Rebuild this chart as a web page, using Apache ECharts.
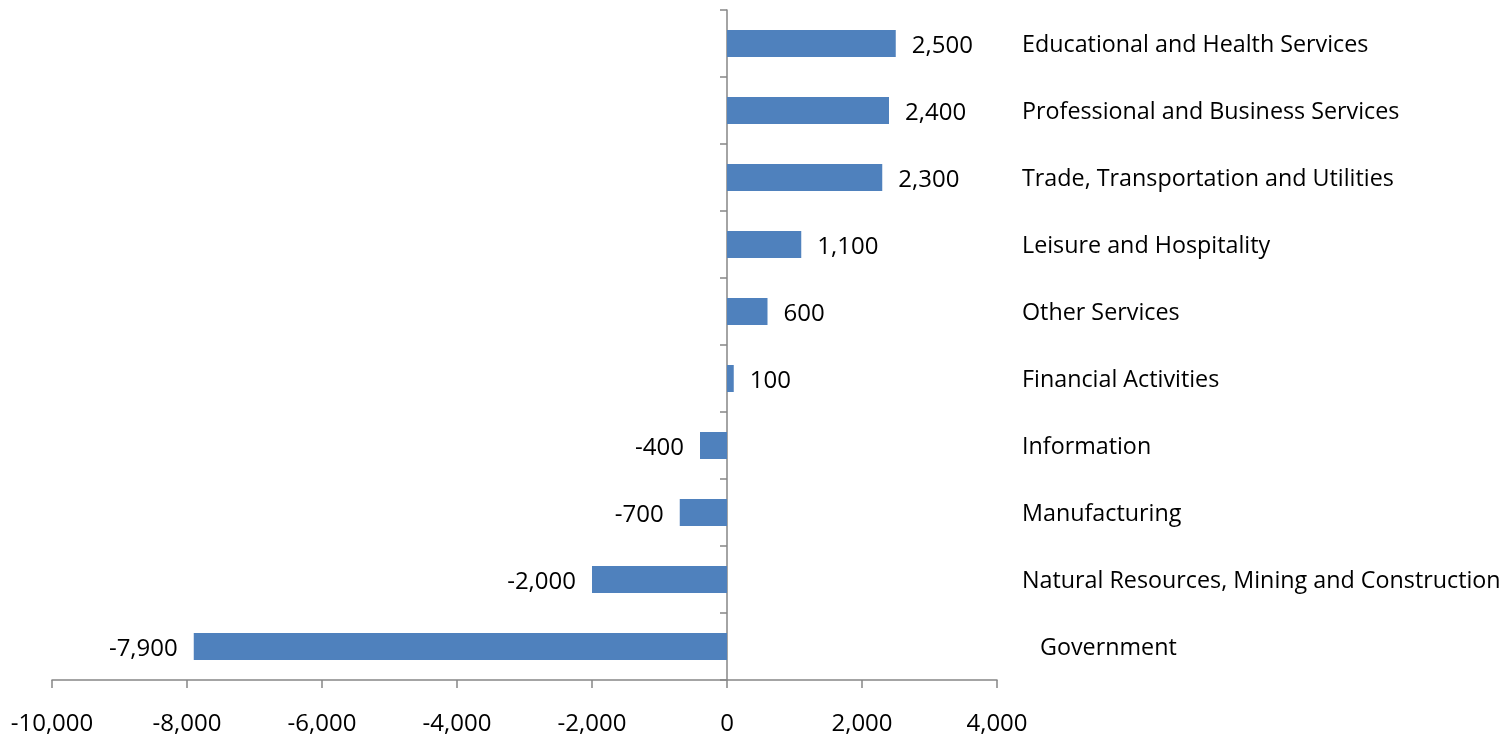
<!DOCTYPE html>
<html><head><meta charset="utf-8">
<script src="https://cdn.jsdelivr.net/npm/echarts@6/dist/echarts.min.js"></script>
<style>html,body{margin:0;padding:0;background:#fff}#c{width:1511px;height:736px}</style>
</head><body><div id="c"></div>
<script>
const categories = ["Educational and Health Services","Professional and Business Services","Trade, Transportation and Utilities","Leisure and Hospitality","Other Services","Financial Activities","Information","Manufacturing","Natural Resources, Mining and Construction","Government"];
const values = [2500,2400,2300,1100,600,100,-400,-700,-2000,-7900];
const xMin = -10000, xMax = 4000, xStep = 2000;
const FONT = 'Open Sans';
const FS = 23.3;
const FN = 24;
const fmt = v => v.toLocaleString('en-US');
const chart = echarts.init(document.getElementById('c'));
chart.setOption({
  animation:false,
  grid:{left:52,right:514,top:10,bottom:56,containLabel:false},
  xAxis:{type:'value',min:xMin,max:xMax,interval:xStep,
    axisLine:{show:true,lineStyle:{color:'#868686',width:1.5}},
    axisTick:{show:true,length:8,lineStyle:{color:'#868686',width:1.5}},
    splitLine:{show:false},
    axisLabel:{margin:32,color:'#000',fontFamily:FONT,fontSize:FN,formatter:v=>fmt(v)}},
  yAxis:[{type:'category',data:categories,inverse:true,
    axisLine:{onZero:true,lineStyle:{color:'#868686',width:1.5}},
    axisTick:{show:true,length:7,lineStyle:{color:'#868686',width:1.5}},
    axisLabel:{show:false}},
   {type:'category',data:categories,inverse:true,position:'right',
    axisLine:{show:false},axisTick:{show:false},
    axisLabel:{margin:25,align:'left',color:'#000',fontFamily:FONT,fontSize:FS,lineHeight:30,
      formatter:(v)=> v==='Government' ? '{g|'+v+'}' : '{n|'+v+'}',
      rich:{g:{padding:[4,0,0,18],color:'#000',fontFamily:FONT,fontSize:FS},
            n:{padding:[4,0,0,0],color:'#000',fontFamily:FONT,fontSize:FS}}}}],
  series:[{type:'bar',barWidth:27,
    data:values.map(v=>({value:v,label:{position:v<0?'left':'right'}})),
    itemStyle:{color:'#4F81BD'},
    label:{show:true,distance:16,offset:[0,3],color:'#000',fontFamily:FONT,fontSize:FN,
      formatter:p=>fmt(p.value)}}]
});
</script></body></html>
